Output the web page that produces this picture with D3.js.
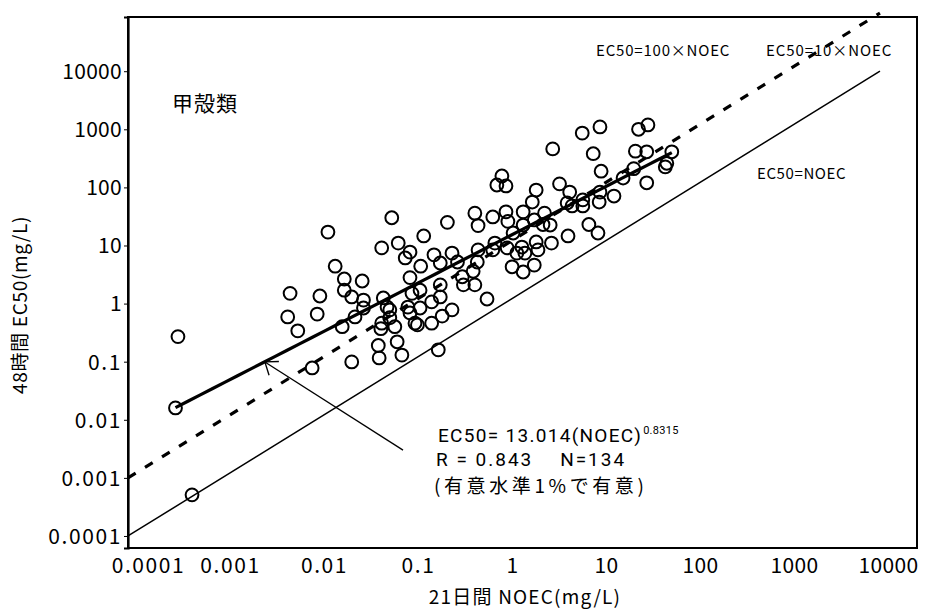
<!DOCTYPE html>
<html><head><meta charset="utf-8">
<script src="https://cdn.jsdelivr.net/npm/d3@7"></script>
<style>
body{margin:0;background:#fff}
svg{display:block}
text{font-family:"Noto Sans CJK JP","Noto Sans",sans-serif;fill:#000}
.lat{font-family:Roboto,"Noto Sans",sans-serif}
</style>
</head><body>
<svg id="c" width="926" height="614"></svg>
<script>
// ---- data ----
const noec = [0.00034,0.00032,0.00048,0.0053,0.011,0.0050,0.0103,0.0064,0.0091,0.0134,
0.016,0.020,0.020,0.024,0.031,0.032,0.032,0.026,0.019,0.024,
0.046,0.047,0.073,0.082,0.20,0.050,0.069,0.113,0.17,0.050,
0.064,0.25,0.075,0.10,0.089,0.14,0.18,0.28,0.13,0.21,
0.32,0.10,0.052,0.105,0.128,0.21,0.21,0.36,0.37,0.49,
0.47,0.52,0.66,0.057,0.095,0.128,0.17,0.10,0.12,0.22,
0.28,0.061,0.49,0.53,0.76,0.53,0.76,1.05,1.1,1.6,
2.1,2.7,2.6,3.1,1.6,0.95,0.84,1.05,2.2,3.9,
5.0,2.0,3.3,6.8,10.5,27,34,8.9,25,33,
61,54,52,10.8,18.5,24,33,10.5,10.3,14.8,
6.9,6.9,4.7,5.3,8.0,10,4.8,2.2,3.2,2.3,
0.80,1.08,1.37,1.67,1.22,1.6,2.1,0.061,0.049,1.55,1.25];
const ec50 = [0.27,0.016,0.00051,1.5,1.35,0.59,0.66,0.34,0.078,17,
4.4,2.65,1.7,1.3,2.45,1.15,0.84,0.59,0.40,0.099,
0.19,0.116,0.22,0.13,0.16,0.46,0.40,0.46,0.46,9.1,
30,25,11,7.7,6.1,14.6,6.9,7.4,4.4,5.0,
5.2,2.8,1.25,1.5,1.7,2.1,1.3,2.9,2.1,2.1,
3.6,5.2,1.2,0.87,0.87,0.84,1.07,0.69,0.43,0.61,
0.78,0.57,36,22,31,8.4,8.4,38,26,38,
27.5,36,23,22.5,22.5,157,110,106,90,115,
83,56,460,860,1100,1000,1190,380,420,410,
410,260,225,190,145,210,120,83,56,71,
61,48,54,48,23,16.4,14.6,11.5,11,8.4,
11,9.1,7.4,7.4,4.3,3.5,4.6,0.78,0.37,9.4,16.4];
const tickValues = [1e-4,1e-3,1e-2,1e-1,1,10,100,1000,10000];
const tickLabels = ["0.0001","0.001","0.01","0.1","1","10","100","1000","10000"];
const fitCoef = 13.014, fitExp = 0.8315;
const refFactors = [1, 10];           // EC50 = k × NOEC lines
const lineRange = [1e-4, 1e4];
const arrowTip = [0.00286, 0.099], arrowTail = [0.0843, 0.0030];

// ---- layout ----
const svg = d3.select("#c");
const L = 128, R = 917, T = 17, B = 548;
const x = d3.scaleLog().domain([1e-4, Math.pow(10, 4.394)]).range([L, R]);
const y = d3.scaleLog().domain([Math.pow(10, -4.207), Math.pow(10, 4.933)]).range([B, T]);

svg.append("rect").attr("width",926).attr("height",614).attr("fill","#fff");

// frame
svg.append("rect").attr("x",L).attr("y",T).attr("width",R-L).attr("height",B-T)
  .attr("fill","none").attr("stroke","#000").attr("stroke-width",2);

// y axis
const yAx = svg.append("g").attr("transform",`translate(${L},0)`)
  .call(d3.axisLeft(y).tickValues(tickValues).tickSize(4).tickFormat((d,i)=>tickLabels[i]));
yAx.select(".domain").attr("stroke-width",2.2);
yAx.selectAll("text").attr("font-size",21).attr("x",-6).attr("dy","0.35em")
  .attr("letter-spacing",(d,i)=> tickLabels[i].includes(".") ? 1.6 : 0.3);
// x axis
const xAx = svg.append("g").attr("transform",`translate(0,${B})`)
  .call(d3.axisBottom(x).tickValues(tickValues).tickSize(0).tickFormat((d,i)=>tickLabels[i]));
xAx.select(".domain").remove();
xAx.selectAll("text").attr("font-size",21).attr("y",25).attr("dy",0)
  .attr("letter-spacing",(d,i)=> tickLabels[i].includes(".") ? 1.6 : 0.3)
  .attr("dx",(d,i)=> i===0 ? 20 : 8);

// reference lines
const line = d3.line().x(d=>x(d[0])).y(d=>y(d[1]));
refFactors.forEach(k=>{
  const pts = lineRange.map(v=>[v, k*v]);
  const p = svg.append("path").attr("d", line(pts)).attr("fill","none").attr("stroke","#000");
  if (k===1) p.attr("stroke-width",1.5);
  else p.attr("stroke-width",3.2).attr("stroke-dasharray","9,11");
});

// regression line
const ext = d3.extent(noec);
const fitPts = d3.range(0, 41).map(i=>{
  const lx = Math.log10(ext[0]) + i/40*(Math.log10(ext[1])-Math.log10(ext[0]));
  const v = Math.pow(10, lx);
  return [v, fitCoef*Math.pow(v, fitExp)];
});
svg.append("path").attr("d", line(fitPts)).attr("fill","none").attr("stroke","#000").attr("stroke-width",3.2);

// points
svg.append("g").selectAll("circle").data(noec).join("circle")
  .attr("cx",(d)=>x(d)).attr("cy",(d,i)=>y(ec50[i])).attr("r",6.4)
  .attr("fill","none").attr("stroke","#000").attr("stroke-width",2);

// arrow
const tx = x(arrowTip[0]), ty = y(arrowTip[1]);
const ax = x(arrowTail[0]), ay = y(arrowTail[1]);
svg.append("line").attr("x1",ax).attr("y1",ay).attr("x2",tx).attr("y2",ty)
  .attr("stroke","#000").attr("stroke-width",1.3);
const ang = Math.atan2(ay-ty, ax-tx);
[-0.6, 0.7].forEach(da=>{
  svg.append("line").attr("x1",tx).attr("y1",ty)
    .attr("x2",tx+14*Math.cos(ang+da)).attr("y2",ty+14*Math.sin(ang+da))
    .attr("stroke","#000").attr("stroke-width",1.3);
});

// texts
svg.append("text").attr("x",172).attr("y",111).attr("font-size",21).attr("letter-spacing",1).text("甲殻類");
svg.append("text").attr("x",596).attr("y",56).attr("font-size",15).attr("letter-spacing",0.8).text("EC50=100×NOEC");
svg.append("text").attr("x",766).attr("y",56).attr("font-size",15).attr("letter-spacing",0.9).text("EC50=10×NOEC");
svg.append("text").attr("x",757).attr("y",179).attr("font-size",15).attr("letter-spacing",0.6).text("EC50=NOEC");

const eq = svg.append("text").attr("class","lat").attr("x",438).attr("y",442).attr("font-size",19)
  .attr("letter-spacing",1.3).style("white-space","pre");
eq.append("tspan").text("EC50= 13.014(NOEC)");
eq.append("tspan").attr("font-size",11).attr("dy",-8).attr("dx",1).attr("letter-spacing",0.3).text("0.8315");
svg.append("text").attr("class","lat").attr("x",436).attr("y",466).attr("font-size",19)
  .attr("letter-spacing",2).style("white-space","pre").text("R = 0.843    N=134");
svg.append("text").attr("x",434).attr("y",493).attr("font-size",19).attr("letter-spacing",3.6).text("(有意水準1%で有意)");

// axis titles
svg.append("text").attr("x",525).attr("y",604).attr("font-size",19).attr("letter-spacing",1.2)
  .attr("text-anchor","middle").text("21日間 NOEC(mg/L)");
svg.append("text").attr("transform","translate(27,305) rotate(-90)").attr("font-size",19).attr("letter-spacing",0.7)
  .attr("text-anchor","middle").text("48時間 EC50(mg/L)");
</script>
</body></html>
